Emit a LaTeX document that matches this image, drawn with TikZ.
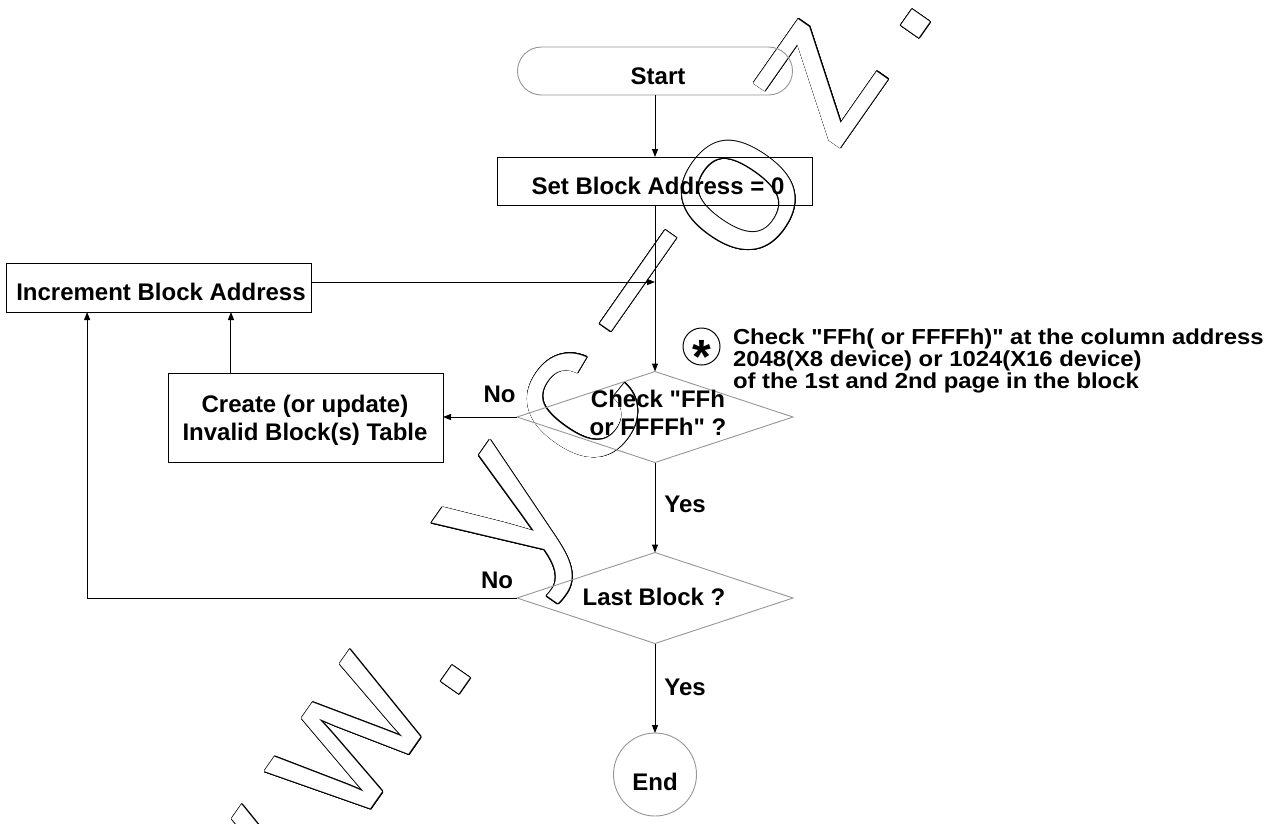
\documentclass[tikz,border=0pt]{standalone}
\usepackage{fontspec}
\setmainfont{Liberation Sans}
\newfontfamily\dfont{Liberation Sans}
\newfontfamily\notefont{Liberation Sans}[FakeStretch=1.1]
\usetikzlibrary{arrows.meta,shapes.geometric,calc}
\definecolor{shapegray}{RGB}{150,150,150}
\tikzset{
  every node/.style={inner sep=0pt, outer sep=0pt},
  box/.style={draw=black, line width=1pt, rectangle},
  term/.style={draw=shapegray, line width=0.9pt, rectangle, rounded corners=24pt, minimum width=275pt, minimum height=48pt},
  decision/.style={draw=shapegray, line width=0.9pt, diamond, minimum width=276pt, minimum height=91pt},
  endc/.style={draw=shapegray, line width=0.9pt, circle, minimum size=83pt},
  txt/.style={font=\dfont\fontsize{24}{28}\selectfont\bfseries, align=center},
  arr/.style={line width=1pt, -{Triangle[length=8pt,width=6pt]}},
  wm/.style={font=\dfont\fontsize{205}{205}\selectfont, rotate=55, inner sep=0pt},
}
\newcommand{\wmchar}[4]{%
  \foreach \a [count=\i] in {0,22.5,...,337.5}{\node[wm, text=black] (wm#4-\i) at ({#1+0.8*cos(\a)},{#2+0.8*sin(\a)}) {#3};}
  \node[wm, text=white] (wm#4) at (#1,#2) {#3};}
\begin{document}
\begin{tikzpicture}[x=1pt,y=-1pt]
\fill[white] (0,0) rectangle (1276,823);
\useasboundingbox (0,0) rectangle (1276,823);
% watermark
\begin{scope}
\clip (0,0) rectangle (1276,823);
\wmchar{352}{742}{w}{A}
\wmchar{244}{897}{w}{B}
\wmchar{456}{680}{.}{C}
\wmchar{523}{525}{y}{D}
\wmchar{581}{408}{c}{E}
\wmchar{657}{294}{\textendash}{F}
\wmchar{739}{196}{o}{G}
\wmchar{821}{82}{z}{H}
\wmchar{916}{24}{.}{I}
\end{scope}
% shapes
\node[term] (start) at (655,71) {};
\node[txt, anchor=base] (startT) at (658,84) {Start};
\node[box, minimum width=315pt, minimum height=48pt] (set) at (655,181) {};
\node[txt, anchor=base] (setT) at (658,194) {Set Block Address = 0};
\node[box, minimum width=305pt, minimum height=49pt] (inc) at (158.5,287.5) {};
\node[txt, anchor=base] (incT) at (161,300) {Increment Block Address};
\node[box, minimum width=275pt, minimum height=89pt] (cre) at (305.5,417.5) {};
\node[txt] (creT) at (305,420) {Create (or update)\\Invalid Block(s) Table};
\node[decision] (d1) at (655,417) {};
\node[txt] (d1T) at (658,413) {Check "FFh\\or FFFFh" ?};
\node[decision] (d2) at (655,598) {};
\node[txt, anchor=base] (d2T) at (654,605) {Last Block ?};
\node[endc] (end) at (655,774.5) {};
\node[txt, anchor=base] (endT) at (655,790) {End};
% labels
\node[txt, anchor=base] (no1) at (499.5,402) {No};
\node[txt, anchor=base] (no2) at (497,588) {No};
\node[txt, anchor=base] (yes1) at (685,512) {Yes};
\node[txt, anchor=base] (yes2) at (685,695) {Yes};
% note
\node[draw, circle, line width=1pt, minimum size=37pt] (star) at (701.5,346.5) {};
\node[font=\dfont\fontsize{48}{48}\selectfont\bfseries, anchor=base] (starT) at (702,373) {*};
\node[font=\notefont\bfseries\fontsize{21.7}{22}\selectfont, align=left, anchor=north west] (note) at (733,329.2) {Check "FFh( or FFFFh)" at the column address\\2048(X8 device) or 1024(X16 device)\\of the 1st and 2nd page in the block};
% connectors
\coordinate (j1) at (655,282);
\draw[arr] (start.south) -- (set.north);
\draw[arr] (set.south) -- (d1.north);
\draw[arr] (inc.east |- j1) -- (j1);
\draw[arr] (d1.west) -- (cre.east |- d1.west);
\coordinate (u1) at ($(cre.north west)!0.229!(cre.north east)$);
\draw[arr] (u1) -- (u1 |- inc.south);
\draw[arr] (d1.south) -- (d2.north);
\coordinate (u2) at ($(inc.south west)!0.266!(inc.south east)$);
\draw[arr] (d2.west) -- (d2.west -| u2) -- (u2);
\draw[arr] (d2.south) -- (end.north);
\end{tikzpicture}
\end{document}
